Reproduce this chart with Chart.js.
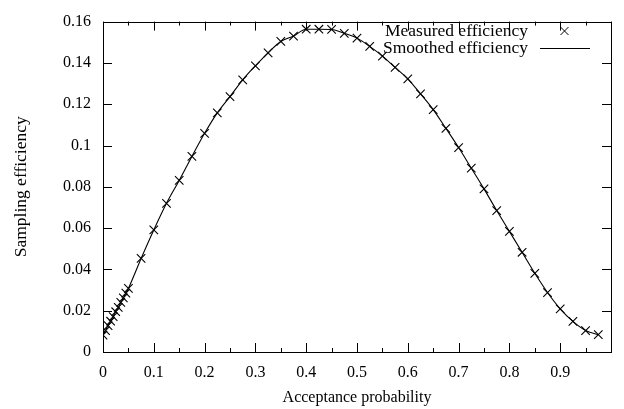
<!DOCTYPE html>
<html>
<head>
<meta charset="utf-8">
<script src="https://cdn.jsdelivr.net/npm/chart.js@4"></script>
<style>
  html, body { margin: 0; padding: 0; background: #fff; }
  #wrap { width: 624px; height: 409px; }
</style>
</head>
<body>
<div id="wrap"><canvas id="effChart" width="624" height="409"></canvas></div>
<script>
// acceptance probability (x) and measured sampling efficiency (y)
const probs = [0, 0.005, 0.01, 0.015, 0.02, 0.025, 0.03, 0.035, 0.04, 0.045, 0.05,
  0.075, 0.1, 0.125, 0.15, 0.175, 0.2, 0.225, 0.25, 0.275, 0.3, 0.325, 0.35, 0.375,
  0.4, 0.425, 0.45, 0.475, 0.5, 0.525, 0.55, 0.575, 0.6, 0.625, 0.65, 0.675, 0.7,
  0.725, 0.75, 0.775, 0.8, 0.825, 0.85, 0.875, 0.9, 0.925, 0.95, 0.975];
const effs = [0.0082, 0.0104, 0.0128, 0.0149, 0.0171, 0.0195, 0.0216, 0.0240, 0.0262, 0.0285, 0.0308,
  0.0453, 0.0591, 0.0720, 0.0831, 0.0947, 0.1059, 0.1158, 0.1237, 0.1318, 0.1386, 0.1449, 0.1504, 0.1530,
  0.1563, 0.1563, 0.1562, 0.1543, 0.1520, 0.1480, 0.1433, 0.1378, 0.1323, 0.1250, 0.1174, 0.1083, 0.0990,
  0.0890, 0.0790, 0.0685, 0.0584, 0.0483, 0.0381, 0.0288, 0.0209, 0.0148, 0.0104, 0.0084];

const seriesLabels = ['Measured efficiency', 'Smoothed efficiency'];
const xTitle = 'Acceptance probability';
const yTitle = 'Sampling efficiency';

const FONT = '"Liberation Serif", "Times New Roman", serif';
const points = probs.map((p, i) => ({ x: p, y: effs[i] }));

// gnuplot-like frame, inward ticks on all four sides, and the key
const framePlugin = {
  id: 'frame',
  afterDatasetsDraw(chart) {
    const { ctx, chartArea: a, scales } = chart;
    const xs = scales.x, ys = scales.y;
    ctx.save();
    ctx.strokeStyle = '#000';
    ctx.lineWidth = 1;
    ctx.strokeRect(Math.round(a.left) + 0.5, Math.round(a.top) + 0.5,
      Math.round(a.right - a.left), Math.round(a.bottom - a.top));

    ctx.beginPath();
    xs.ticks.forEach((t, i) => {
      const px = Math.round(xs.getPixelForValue(t.value)) + 0.5;
      ctx.moveTo(px, a.bottom); ctx.lineTo(px, a.bottom - 9);
      ctx.moveTo(px, a.top); ctx.lineTo(px, a.top + 9);
      if (i < xs.ticks.length - 1) {
        const mid = (t.value + xs.ticks[i + 1].value) / 2;
        const mx = Math.round(xs.getPixelForValue(mid)) + 0.5;
        ctx.moveTo(mx, a.bottom); ctx.lineTo(mx, a.bottom - 4);
        ctx.moveTo(mx, a.top); ctx.lineTo(mx, a.top + 4);
      }
    });
    ys.ticks.forEach(t => {
      const py = Math.round(ys.getPixelForValue(t.value)) + 0.5;
      ctx.moveTo(a.left, py); ctx.lineTo(a.left + 9, py);
      ctx.moveTo(a.right, py); ctx.lineTo(a.right - 9, py);
    });
    ctx.stroke();

    // key, text right-aligned with the sample on its right
    ctx.font = '17.5px ' + FONT;
    ctx.fillStyle = '#000';
    ctx.textAlign = 'right';
    ctx.textBaseline = 'middle';
    const ds = chart.data.datasets;
    ctx.fillText(ds[0].label, 528, 31);
    ctx.fillText(ds[1].label, 528, 48);
    ctx.beginPath();
    ctx.moveTo(560.5, 27); ctx.lineTo(568.5, 35);
    ctx.moveTo(568.5, 27); ctx.lineTo(560.5, 35);
    ctx.moveTo(540, 48.5); ctx.lineTo(590, 48.5);
    ctx.stroke();
    ctx.restore();
  }
};

new Chart(document.getElementById('effChart'), {
  type: 'scatter',
  data: {
    datasets: [
      {
        label: seriesLabels[0],
        data: points,
        pointStyle: 'crossRot',
        pointRadius: 6,
        pointBorderWidth: 1.1,
        borderColor: '#000',
        backgroundColor: '#000',
        showLine: false
      },
      {
        label: seriesLabels[1],
        data: points,
        showLine: true,
        pointRadius: 0,
        borderColor: '#000',
        borderWidth: 1.1,
        cubicInterpolationMode: 'monotone',
        fill: false
      }
    ]
  },
  options: {
    responsive: false,
    animation: false,
    layout: { padding: { left: 0, right: 13, top: 13, bottom: 0 } },
    plugins: {
      legend: { display: false },
      tooltip: { enabled: false }
    },
    scales: {
      x: {
        type: 'linear',
        min: 0,
        max: 1,
        afterFit(s) { s.height = 57; },
        grid: { display: false, drawTicks: false },
        border: { display: false },
        ticks: {
          stepSize: 0.1,
          padding: 11,
          color: '#000',
          font: { family: FONT, size: 16 },
          maxRotation: 0,
          callback: v => (v >= 0.999 ? '' : String(+v.toFixed(2)))
        },
        title: {
          display: true,
          text: xTitle,
          color: '#000',
          font: { family: FONT, size: 16 },
          padding: { top: 0, bottom: 2 }
        }
      },
      y: {
        type: 'linear',
        min: 0,
        max: 0.16,
        afterFit(s) { s.width = 103; },
        grid: { display: false, drawTicks: false },
        border: { display: false },
        ticks: {
          stepSize: 0.02,
          padding: 12,
          color: '#000',
          font: { family: FONT, size: 16 },
          callback: v => String(+v.toFixed(2))
        },
        title: {
          display: true,
          text: yTitle,
          color: '#000',
          font: { family: FONT, size: 17.5 },
          padding: { top: 11, bottom: 0 }
        }
      }
    }
  },
  plugins: [framePlugin]
});
</script>
</body>
</html>
